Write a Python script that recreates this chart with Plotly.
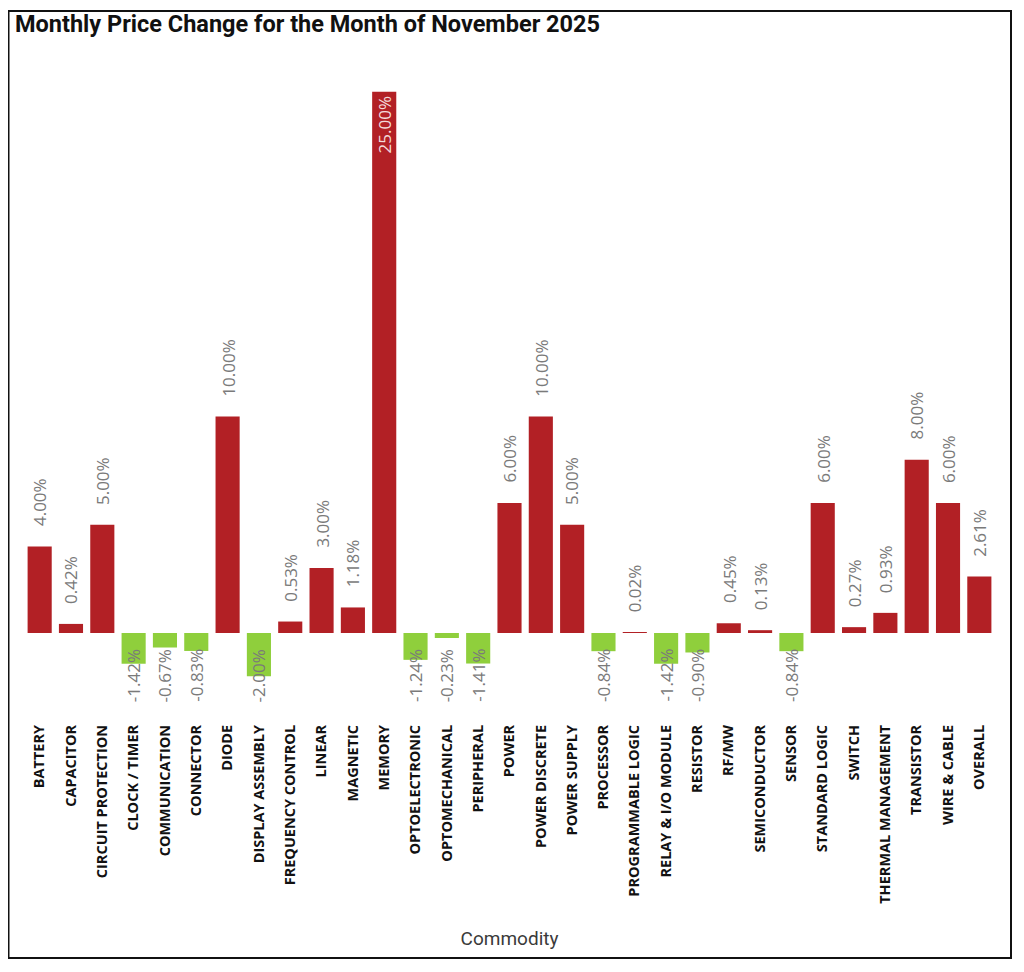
import plotly.graph_objects as go

categories = ["BATTERY", "CAPACITOR", "CIRCUIT PROTECTION", "CLOCK / TIMER", "COMMUNICATION",
              "CONNECTOR", "DIODE", "DISPLAY ASSEMBLY", "FREQUENCY CONTROL", "LINEAR", "MAGNETIC",
              "MEMORY", "OPTOELECTRONIC", "OPTOMECHANICAL", "PERIPHERAL", "POWER", "POWER DISCRETE",
              "POWER SUPPLY", "PROCESSOR", "PROGRAMMABLE LOGIC", "RELAY & I/O MODULE", "RESISTOR",
              "RF/MW", "SEMICONDUCTOR", "SENSOR", "STANDARD LOGIC", "SWITCH", "THERMAL MANAGEMENT",
              "TRANSISTOR", "WIRE & CABLE", "OVERALL"]
values = [4.00, 0.42, 5.00, -1.42, -0.67, -0.83, 10.00, -2.00, 0.53, 3.00, 1.18,
          25.00, -1.24, -0.23, -1.41, 6.00, 10.00, 5.00, -0.84, 0.02, -1.42, -0.90,
          0.45, 0.13, -0.84, 6.00, 0.27, 0.93, 8.00, 6.00, 2.61]

RED = "#B22025"
GREEN = "#8FCF3C"
colors = [RED if v >= 0 else GREEN for v in values]

# figure sits inside the page body (8px default margin)
W, H = 1008, 956
ml, mt = 16, 42
plot_w = 971
plot_bottom = 713
mr = W - ml - plot_w
mb = H - plot_bottom
plot_h = plot_bottom - mt
base_px = 625
ppu = 21.65
y_bottom = -(plot_bottom - base_px) / ppu
y_top = (base_px - mt) / ppu

fig = go.Figure()
fig.add_trace(go.Bar(
    x=categories, y=values, marker=dict(color=colors, line=dict(width=0)),
    hoverinfo="x+y",
))

FAM = "Open Sans, Noto Sans, sans-serif"
label_font = dict(family=FAM, size=17, color="#7A7A7A")
annotations = []
max_v = max(values)
for c, v in zip(categories, values):
    txt = f"{v:.2f}%"
    if v == max_v:
        annotations.append(dict(x=c, y=v, xref="x", yref="y", text=txt, showarrow=False,
                                textangle=-90, yanchor="top", yshift=-3,
                                font=dict(family=FAM, size=17, color="#F3DADA")))
    elif v >= 0:
        annotations.append(dict(x=c, y=v, xref="x", yref="y", text=txt, showarrow=False,
                                textangle=-90, yanchor="bottom", yshift=18, font=label_font))
    else:
        annotations.append(dict(x=c, y=0, xref="x", yref="y domain", text=txt, showarrow=False,
                                textangle=-90, yanchor="bottom", yshift=17, font=label_font))

fig.update_layout(
    width=W, height=H,
    margin=dict(l=ml, r=mr, t=mt, b=mb),
    paper_bgcolor="white", plot_bgcolor="white",
    bargap=0.23,
    showlegend=False,
    title=dict(text="<b>Monthly Price Change for the Month of November 2025</b>",
               x=7 / W, xref="container", xanchor="left",
               y=1 - 16 / H, yref="container", yanchor="middle",
               font=dict(family="Roboto, sans-serif", size=23.5, color="#111111")),
    xaxis=dict(
        tickangle=-90, showgrid=False, zeroline=False, showline=False, ticks="",
        tickfont=dict(family=FAM, size=14.5, color="#111111", weight="bold"),
        title=dict(text="Commodity", standoff=28,
                   font=dict(family="Roboto, sans-serif", size=19, color="#3A3A3A")),
        automargin=False,
    ),
    yaxis=dict(range=[y_bottom, y_top], visible=False, showgrid=False, zeroline=False,
               fixedrange=True),
    annotations=annotations,
    shapes=[dict(type="rect", xref="paper", yref="paper",
                 x0=(0.5 - ml) / plot_w, x1=(1003 - ml) / plot_w,
                 y0=(plot_bottom - 950) / plot_h, y1=(plot_bottom - 3) / plot_h,
                 line=dict(color="#111111", width=2), fillcolor="rgba(0,0,0,0)", layer="above")],
)

fig.write_html("out.html")
